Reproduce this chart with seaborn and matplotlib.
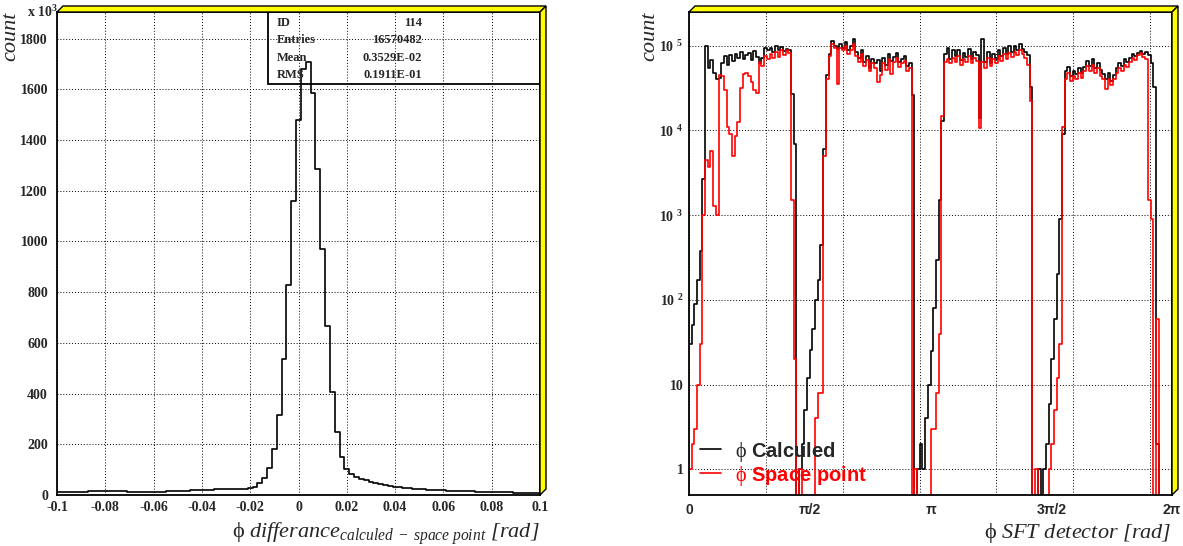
import numpy as np
import pandas as pd
import matplotlib
matplotlib.use("Agg")
import matplotlib.pyplot as plt
import seaborn as sns
from matplotlib.patches import Polygon, Rectangle
from matplotlib.ticker import LogLocator, NullFormatter, MultipleLocator

# ---- data: phi difference histogram (counts in units of 10^3), bins of 0.002 centred on even multiples
diff_centers = np.round(np.arange(-0.100, 0.1001, 0.002), 3)
diff_counts = [
    10, 10, 11, 11, 12, 12, 13, 14, 14, 15,
    15, 15, 15, 14, 14, 13, 13, 12, 12, 12,
    12, 13, 13, 14, 15, 15, 16, 17, 18, 19,
    20, 21, 21, 22, 22, 22, 23, 24, 24, 25,
    26, 33, 46, 66, 108, 182, 316, 536, 827, 1159, 1480,
    1680, 1709, 1585, 1287, 972, 666, 407, 249, 151, 102,
    83, 72, 65, 58, 52, 47, 43, 39, 35, 32,
    30, 28, 26, 24, 23, 22, 21, 20, 19, 18,
    17, 17, 16, 15, 15, 14, 13, 13, 12, 12,
    11, 11, 10, 10, 9, 9, 9, 8, 8, 8,
]
diff_edges = list(np.append(diff_centers - 0.001, diff_centers[-1] + 0.001))

stat_names = ["ID", "Entries", "Mean", "RMS"]
stat_values = ["114", "16570482", "0.3529E-02", "0.1911E-01"]

# ---- data: phi in SFT detector, 180 bins over [0, 2pi]
phi_calc = [
    30, 50, 90, 170, 380, 2700, 100000, 55000, 68000, 48000,
    40000, 42000, 62000, 75000, 60000, 78000, 66000, 80000, 72000, 84000,
    70000, 78000, 82000, 68000, 86000, 74000, 62000, 72000, 95000, 88000,
    93000, 85000, 98000, 90000, 96000, 86000, 92000, 88000, 27000, 7000,
    0, 1, 2, 5, 12, 26, 45, 100, 170, 450,
    6000, 45000, 80000, 115000, 100000, 92000, 105000, 95000, 110000, 88000,
    98000, 120000, 85000, 72000, 90000, 65000, 76000, 55000, 70000, 62000,
    68000, 50000, 72000, 60000, 80000, 66000, 74000, 82000, 64000, 70000,
    76000, 58000, 62000, 26000, 0, 1, 2, 1, 4, 10,
    25, 80, 300, 1500, 13000, 80000, 95000, 70000, 88000, 76000,
    90000, 68000, 82000, 74000, 92000, 70000, 85000, 78000, 14000, 120000,
    65000, 85000, 62000, 80000, 70000, 90000, 75000, 95000, 80000, 100000,
    84000, 98000, 88000, 105000, 92000, 85000, 78000, 33000, 0, 0,
    1, 0, 1, 2, 6, 20, 60, 200, 900, 9000,
    50000, 56000, 44000, 50000, 46000, 54000, 48000, 56000, 66000, 58000,
    70000, 55000, 62000, 52000, 46000, 40000, 48000, 38000, 45000, 55000,
    62000, 58000, 70000, 64000, 72000, 80000, 75000, 82000, 86000, 80000,
    84000, 78000, 62000, 33000, 2, 0, 0, 0, 0, 0,
]
phi_space = [
    1, 2, 3, 10, 30, 1000, 4500, 3700, 5800, 1300,
    1000, 45000, 44000, 30000, 11000, 9000, 5000, 8500, 12500, 32000,
    47000, 48000, 44000, 37000, 30000, 28000, 65000, 58000, 76000, 70000,
    80000, 72000, 85000, 74000, 88000, 78000, 90000, 82000, 1500, 20,
    0, 1, 0, 0, 0, 0, 0, 4, 8, 8,
    5000, 40000, 75000, 105000, 95000, 35000, 95000, 90000, 100000, 80000,
    90000, 105000, 75000, 65000, 80000, 58000, 68000, 50000, 62000, 55000,
    37000, 45000, 62000, 52000, 70000, 47000, 65000, 72000, 56000, 62000,
    66000, 50000, 55000, 0, 1, 0, 0, 0, 0, 0,
    3, 3, 8, 40, 15000, 65000, 70000, 62000, 72000, 65000,
    75000, 60000, 70000, 64000, 76000, 62000, 72000, 66000, 10700, 65000,
    55000, 72000, 58000, 70000, 62000, 75000, 66000, 80000, 70000, 82000,
    74000, 85000, 78000, 90000, 80000, 72000, 60000, 22000, 0, 1,
    0, 0, 0, 0, 1, 2, 5, 12, 30, 11000,
    40000, 48000, 38000, 44000, 40000, 48000, 42000, 50000, 58000, 50000,
    60000, 48000, 54000, 44000, 40000, 31000, 40000, 34000, 40000, 48000,
    55000, 50000, 60000, 56000, 64000, 72000, 68000, 78000, 82000, 74000,
    70000, 1500, 900, 0, 60, 0, 0, 0, 0, 0,
]
phi_edges = np.linspace(0, 2 * np.pi, len(phi_calc) + 1)
phi_centers = 0.5 * (phi_edges[:-1] + phi_edges[1:])

pi_ticks = [0, np.pi / 2, np.pi, 3 * np.pi / 2, 2 * np.pi]
pi_labels = ["0", "\u03c0/2", "\u03c0", "3\u03c0/2", "2\u03c0"]
log_ticks = [1, 10, 1e2, 1e3, 1e4, 1e5]
log_labels = ["1", "10", "10 $^{\\mathbf{2}}$", "10 $^{\\mathbf{3}}$",
              "10 $^{\\mathbf{4}}$", "10 $^{\\mathbf{5}}$"]

diff_df = pd.DataFrame({"dphi": diff_centers, "count": diff_counts})
phi_df = pd.DataFrame({"phi": phi_centers, "calc": phi_calc, "space": phi_space})

# ---- style
sns.set_style("white")
plt.rcParams['font.family'] = ['Liberation Serif', 'DejaVu Serif']
plt.rcParams['mathtext.fontset'] = 'custom'
plt.rcParams['mathtext.rm'] = 'Liberation Serif'
plt.rcParams['mathtext.it'] = 'Liberation Serif:italic'
plt.rcParams['mathtext.bf'] = 'Liberation Serif:bold'

W, H = 1183, 546
fig = plt.figure(figsize=(W / 100, H / 100), dpi=100)


def fx(x):
    return x / W


def fy(y):
    return 1 - y / H


ax1 = fig.add_axes([fx(57), fy(495), 483 / W, 483 / H])
ax2 = fig.add_axes([fx(689), fy(495), 483 / W, 483 / H])

grid_kw = dict(color='black', linestyle=(0, (1, 2)), linewidth=0.7)

# ---- left: phi difference
sns.histplot(data=diff_df, x="dphi", weights="count", bins=diff_edges, element='step',
             fill=False, color='black', linewidth=1.2, ax=ax1)
ax1.set_xlim(-0.1, 0.1)
ax1.set_ylim(0, 1905)
xt = np.round(np.arange(-0.1, 0.1001, 0.02), 2)
ax1.set_xticks(xt, ["0" if v == 0 else f"{v:g}" for v in xt], fontweight='bold', fontsize=10)
ax1.set_yticks(range(0, 1801, 200), [str(v) for v in range(0, 1801, 200)],
               fontweight='bold', fontsize=10)
ax1.xaxis.set_minor_locator(MultipleLocator(0.005))
ax1.yaxis.set_minor_locator(MultipleLocator(50))
ax1.grid(True, which='major', **grid_kw)
ax1.set_xlabel("")
ax1.set_ylabel("")

# stats box
ax1.add_patch(Rectangle((fx(268), fy(84)), fx(540) - fx(268), fy(12) - fy(84),
                        transform=fig.transFigure, fill=False, edgecolor='black',
                        linewidth=1.3, zorder=5))
for i, (n, v) in enumerate(zip(stat_names, stat_values)):
    yy = fy(26 + 17.3 * i)
    fig.text(fx(277), yy, n, fontweight='bold', fontsize=9, va='baseline')
    fig.text(fx(422), yy, v, fontweight='bold', fontsize=9, va='baseline', ha='right')

fig.text(fx(27), fy(17), "x 10$^{\\mathbf{3}}$", fontweight='bold', fontsize=10, va='baseline')

# ---- right: phi in SFT detector
sns.histplot(data=phi_df, x="phi", weights="calc", bins=list(phi_edges), element='step',
             fill=False, color='black', linewidth=1.2, ax=ax2)
sns.histplot(data=phi_df, x="phi", weights="space", bins=list(phi_edges), element='step',
             fill=False, color='red', linewidth=1.2, ax=ax2)
ax2.set_yscale('log')
ax2.set_xlim(0, 2 * np.pi)
ax2.set_ylim(0.5, 2.5e5)
ax2.set_yticks(log_ticks, log_labels, fontweight='bold', fontsize=10)
ax2.yaxis.set_minor_locator(LogLocator(base=10, subs=np.arange(2, 10)))
ax2.yaxis.set_minor_formatter(NullFormatter())
ax2.set_xticks(range(0, 7), [""] * 7)
ax2.xaxis.set_minor_locator(MultipleLocator(0.1))
ax2.grid(True, which='major', **grid_kw)
ax2.set_xlabel("")
ax2.set_ylabel("")
sec = ax2.secondary_xaxis('bottom')
sec.set_xticks(pi_ticks, pi_labels, fontweight='bold', fontsize=10,
               family=['Liberation Sans', 'DejaVu Sans'])
sec.tick_params(length=0, pad=6)
sec.spines['bottom'].set_visible(False)

leg_lines = [plt.Line2D([], [], color='black', lw=1.2), plt.Line2D([], [], color='red', lw=1.2)]
leg = ax2.legend(leg_lines, ["$\\mathrm{\\phi}$ Calculed", "$\\mathrm{\\phi}$ Space point"],
                 loc='lower left', bbox_to_anchor=(-0.014, -0.022), frameon=False,
                 handlelength=1.0, handletextpad=0.7, labelspacing=0.0,
                 prop=dict(family=['Liberation Sans', 'DejaVu Sans'], weight='bold', size=14.5))
leg.get_texts()[1].set_color('red')

for ax in (ax1, ax2):
    ax.tick_params(which='major', direction='in', length=6, width=1, pad=4,
                   top=False, right=False)
    ax.tick_params(which='minor', direction='in', length=3.5, width=1,
                   top=False, right=False)
    for s in ax.spines.values():
        s.set_linewidth(1.3)
        s.set_color('black')
ax1.tick_params(axis='y', which='major', pad=6.5)

# yellow 3D frame borders
for x0, x1 in ((57, 540), (689, 1172)):
    d = 6
    top = Polygon([(fx(x0), fy(12)), (fx(x1), fy(12)), (fx(x1 + d), fy(12 - d)),
                   (fx(x0 + d), fy(12 - d))], closed=True, transform=fig.transFigure,
                  facecolor='#ffff00', edgecolor='black', linewidth=1)
    right = Polygon([(fx(x1), fy(12)), (fx(x1 + d), fy(12 - d)), (fx(x1 + d), fy(495 - d)),
                     (fx(x1), fy(495))], closed=True, transform=fig.transFigure,
                    facecolor='#ffff00', edgecolor='black', linewidth=1)
    fig.patches.extend([top, right])

# axis titles
fig.text(fx(540), fy(538),
         "$\\mathrm{\\phi}$ differance$_{\\mathit{calculed\\ -\\ space\\ point}}$ [rad]",
         ha='right', va='baseline', fontsize=16, style='italic')
fig.text(fx(1172), fy(538), "$\\mathrm{\\phi}$ SFT detector [rad]",
         ha='right', va='baseline', fontsize=16, style='italic')
fig.text(fx(11), fy(36), "count", rotation=90, ha='center', va='center',
         fontsize=16, style='italic')
fig.text(fx(650), fy(36), "count", rotation=90, ha='center', va='center',
         fontsize=16, style='italic')

fig.savefig("out.png", dpi=100)
